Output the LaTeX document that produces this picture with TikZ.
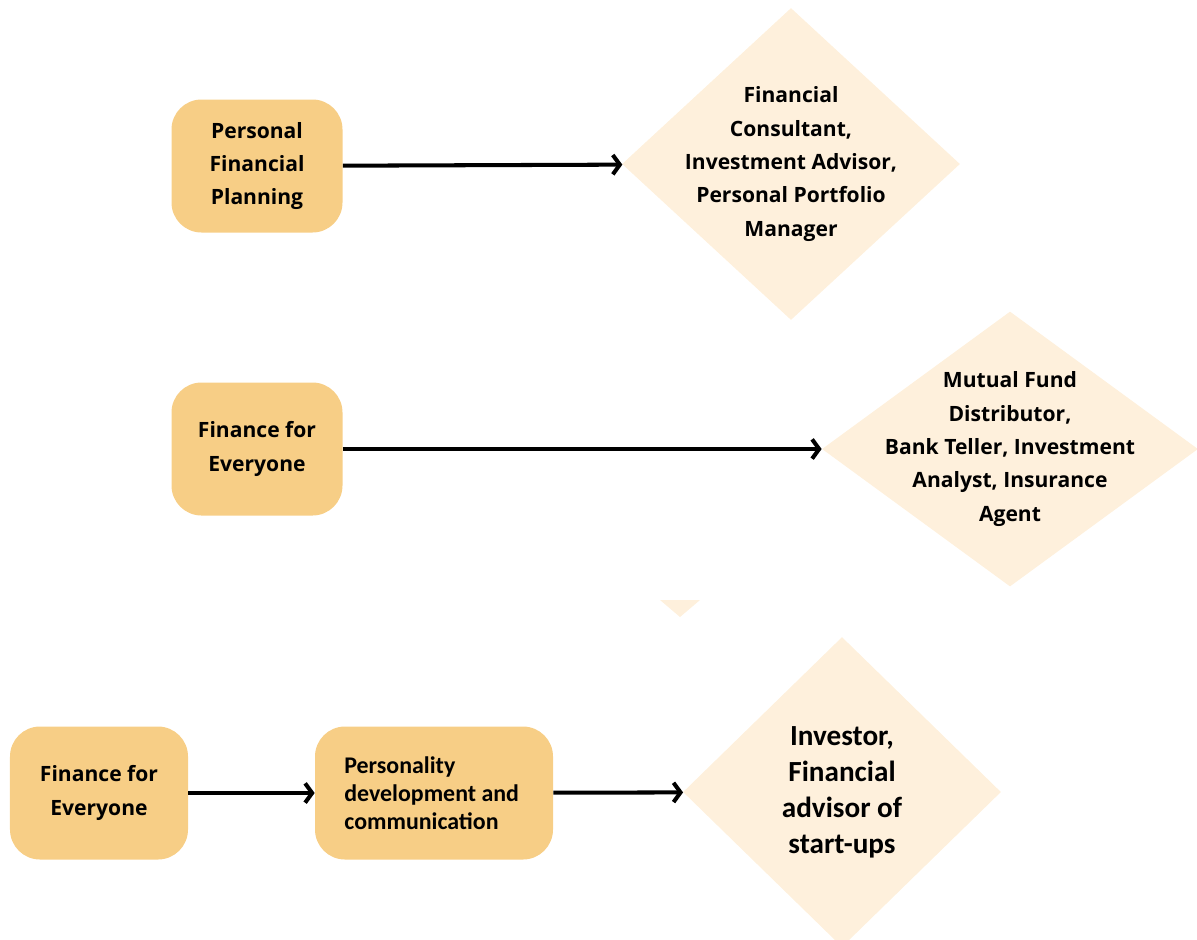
\documentclass[tikz,border=0pt]{standalone}
\usepackage{fontspec}
\setmainfont{Open Sans}
\newfontfamily\calfont{Carlito}
\usetikzlibrary{arrows.meta, shapes.geometric}
\usepackage{xcolor}

\definecolor{boxfill}{HTML}{F7CE86}
\definecolor{jobfill}{HTML}{FEF0DC}

\begin{document}
\begin{tikzpicture}[
    course/.style={rectangle, rounded corners=0.6cm, fill=boxfill, minimum width=3.42cm, minimum height=2.66cm, align=center, font=\bfseries\fontsize{12}{19}\selectfont},
    job/.style={diamond, fill=jobfill, inner sep=-3cm, align=center, font=\bfseries\fontsize{12}{19}\selectfont},
    arrow/.style={-{Straight Barb[length=4pt, width=11pt]}, line width=2.3pt}
]
\useasboundingbox (0,0) rectangle (23.94,-18.78);

% Ligne 1
\node[course] (plan) at (5.14,-3.32) {Personal\\Financial\\Planning};
\node[job, minimum width=6.76cm, minimum height=6.24cm] (advisor) at (15.82,-3.28) {Financial\\Consultant,\\Investment Advisor,\\Personal Portfolio\\Manager};

% Ligne 2
\node[course] (fin1) at (5.14,-8.98) {Finance for\\Everyone};
\node[job, minimum width=7.52cm, minimum height=5.5cm] (teller) at (20.2,-8.98) {Mutual Fund\\Distributor,\\Bank Teller, Investment\\Analyst, Insurance\\Agent};

% Ligne 3
\node[course, minimum width=3.56cm] (fin2) at (1.98,-15.86) {Finance for\\Everyone};
\node[course, minimum width=4.76cm, align=left, font=\calfont\bfseries\fontsize{13.6}{16}\selectfont] (soft) at (8.68,-15.86) {Personality\\development and\\communication\hspace*{0.5cm}};
\node[job, minimum width=6.36cm, minimum height=6.2cm, font=\calfont\bfseries\fontsize{16.6}{20.5}\selectfont] (investor) at (16.84,-15.84) {Investor,\\Financial\\advisor of\\start-ups};

% petit reste
\fill[jobfill] (13.2,-12.0) -- (14.0,-12.0) -- (13.6,-12.34) -- cycle;

% Fleches
\draw[arrow] (plan) -- (advisor);
\draw[arrow] (fin1) -- (teller);
\draw[arrow] (fin2) -- (soft);
\draw[arrow] (soft) -- (investor);

\end{tikzpicture}
\end{document}
